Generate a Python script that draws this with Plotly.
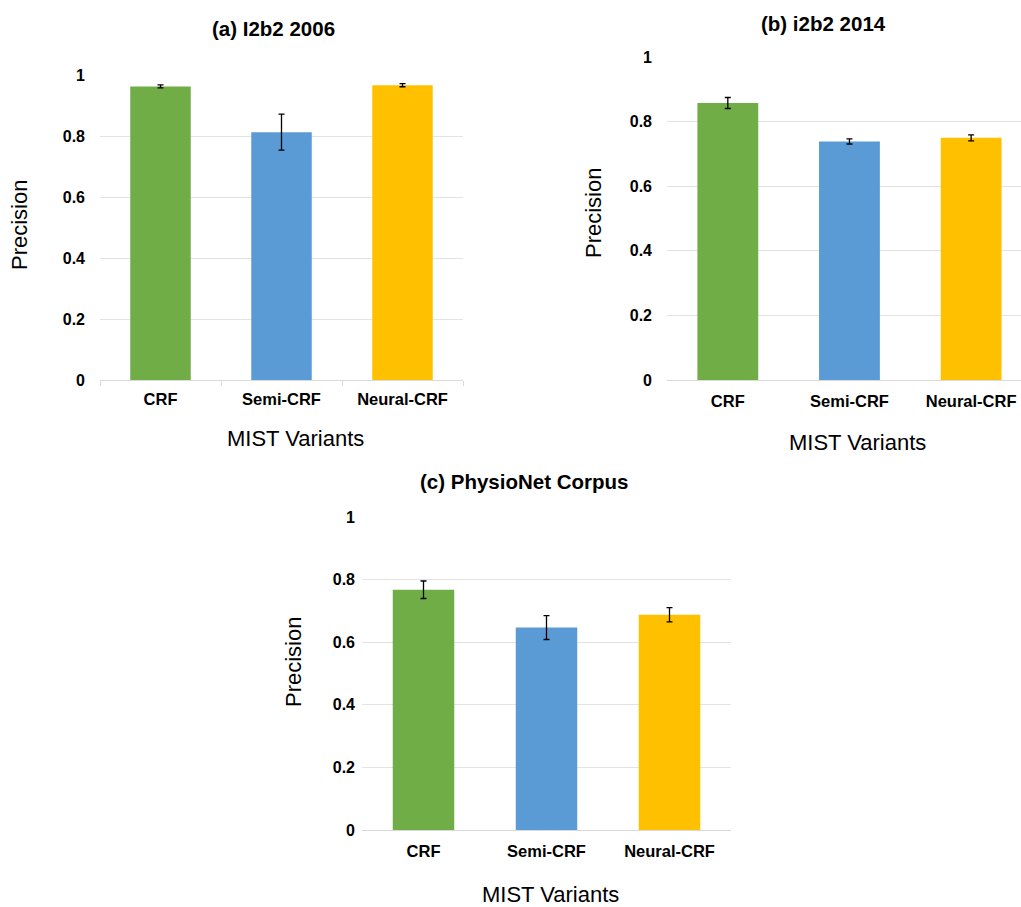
import plotly.graph_objects as go

variants = ["CRF", "Semi-CRF", "Neural-CRF"]

prec_2006 = [0.963, 0.813, 0.967]
err_2006 = [0.005, 0.059, 0.005]

prec_2014 = [0.858, 0.739, 0.750]
err_2014 = [0.017, 0.008, 0.009]

prec_physio = [0.768, 0.647, 0.688]
err_physio = [0.028, 0.038, 0.023]

titles = ["(a) I2b2 2006", "(b) i2b2 2014", "(c) PhysioNet Corpus"]
y_ticks = [0, 0.2, 0.4, 0.6, 0.8, 1]

bar_colors = ["#70AD47", "#5B9BD5", "#FFC000"]

W, H = 1021, 907
FONT = "Liberation Sans, Arial, sans-serif"

def px_x(p):
    return p / W

def px_y(p):
    return 1 - p / H

fig = go.Figure()

panels = [
    dict(vals=prec_2006, errs=err_2006, xa="x", ya="y",
         xdom=(100, 463), ydom=(75, 380), xrange=[-0.5, 2.5], xticks=True,
         ystand=14, xstand=4),
    dict(vals=prec_2014, errs=err_2014, xa="x2", ya="y2",
         xdom=(667, 1021), ydom=(57, 380), xrange=[-0.5, 2.41], xticks=False,
         ystand=14, xstand=6),
    dict(vals=prec_physio, errs=err_physio, xa="x3", ya="y3",
         xdom=(362, 731), ydom=(517, 830), xrange=[-0.5, 2.5], xticks=False,
         ystand=6, xstand=6),
]

layout_axes = {}
for i, p in enumerate(panels):
    fig.add_trace(go.Bar(
        x=variants, y=p["vals"], xaxis=p["xa"], yaxis=p["ya"],
        marker=dict(color=bar_colors, line=dict(width=0)),
        error_y=dict(type="data", array=p["errs"], visible=True,
                     color="black", thickness=1.3, width=3),
        width=0.5, showlegend=False, hoverinfo="skip",
    ))
    suffix = "" if i == 0 else str(i + 1)
    layout_axes["xaxis" + suffix] = dict(
        domain=[max(px_x(p["xdom"][0]), 0), min(px_x(p["xdom"][1]), 1.0)],
        anchor=p["ya"], range=p["xrange"], type="category",
        showline=True, linecolor="#d9d9d9", linewidth=1,
        ticks="outside" if p["xticks"] else "", tickson="boundaries",
        ticklen=5, tickcolor="#d9d9d9",
        tickfont=dict(family=FONT, size=16.5, color="black", weight="bold"),
        showgrid=False, zeroline=False, fixedrange=True, automargin=False,
        ticklabelstandoff=p["xstand"],
    )
    layout_axes["yaxis" + suffix] = dict(
        domain=[px_y(p["ydom"][1]), px_y(p["ydom"][0])],
        anchor=p["xa"], range=[0, 1.0005],
        tickvals=y_ticks, ticktext=[("%g" % v) for v in y_ticks],
        showgrid=True, gridcolor="#e3e3e3", gridwidth=1,
        zeroline=False, showline=False, automargin=False,
        tickfont=dict(family=FONT, size=16, color="black", weight="bold"),
        ticklabelstandoff=p["ystand"], fixedrange=True,
    )

def ann(text, px, py, size, bold=False, angle=0):
    return dict(text=text, x=px_x(px), y=px_y(py), xref="paper", yref="paper",
                xanchor="center", yanchor="middle", showarrow=False, textangle=angle,
                font=dict(family=FONT, size=size, color="black",
                          weight="bold" if bold else "normal"))

annotations = [
    ann(titles[0], 273, 28, 20.5, True),
    ann(titles[1], 823, 23, 20.5, True),
    ann(titles[2], 524, 481, 20.5, True),
    ann("Precision", 20, 225, 22, angle=-90),
    ann("Precision", 593, 213, 22, angle=-90),
    ann("Precision", 293, 662, 22, angle=-90),
    ann("MIST Variants", 295, 438, 22),
    ann("MIST Variants", 857, 442, 22),
    ann("MIST Variants", 550, 894, 22),
]

fig.update_layout(
    width=W, height=H, margin=dict(l=0, r=0, t=0, b=0, autoexpand=False),
    paper_bgcolor="white", plot_bgcolor="white",
    bargap=0.5, annotations=annotations, **layout_axes,
)

fig.write_html(
    "out.html",
    config={"displayModeBar": False},
    post_script="document.body.style.margin='0';document.body.style.overflow='hidden';",
)
